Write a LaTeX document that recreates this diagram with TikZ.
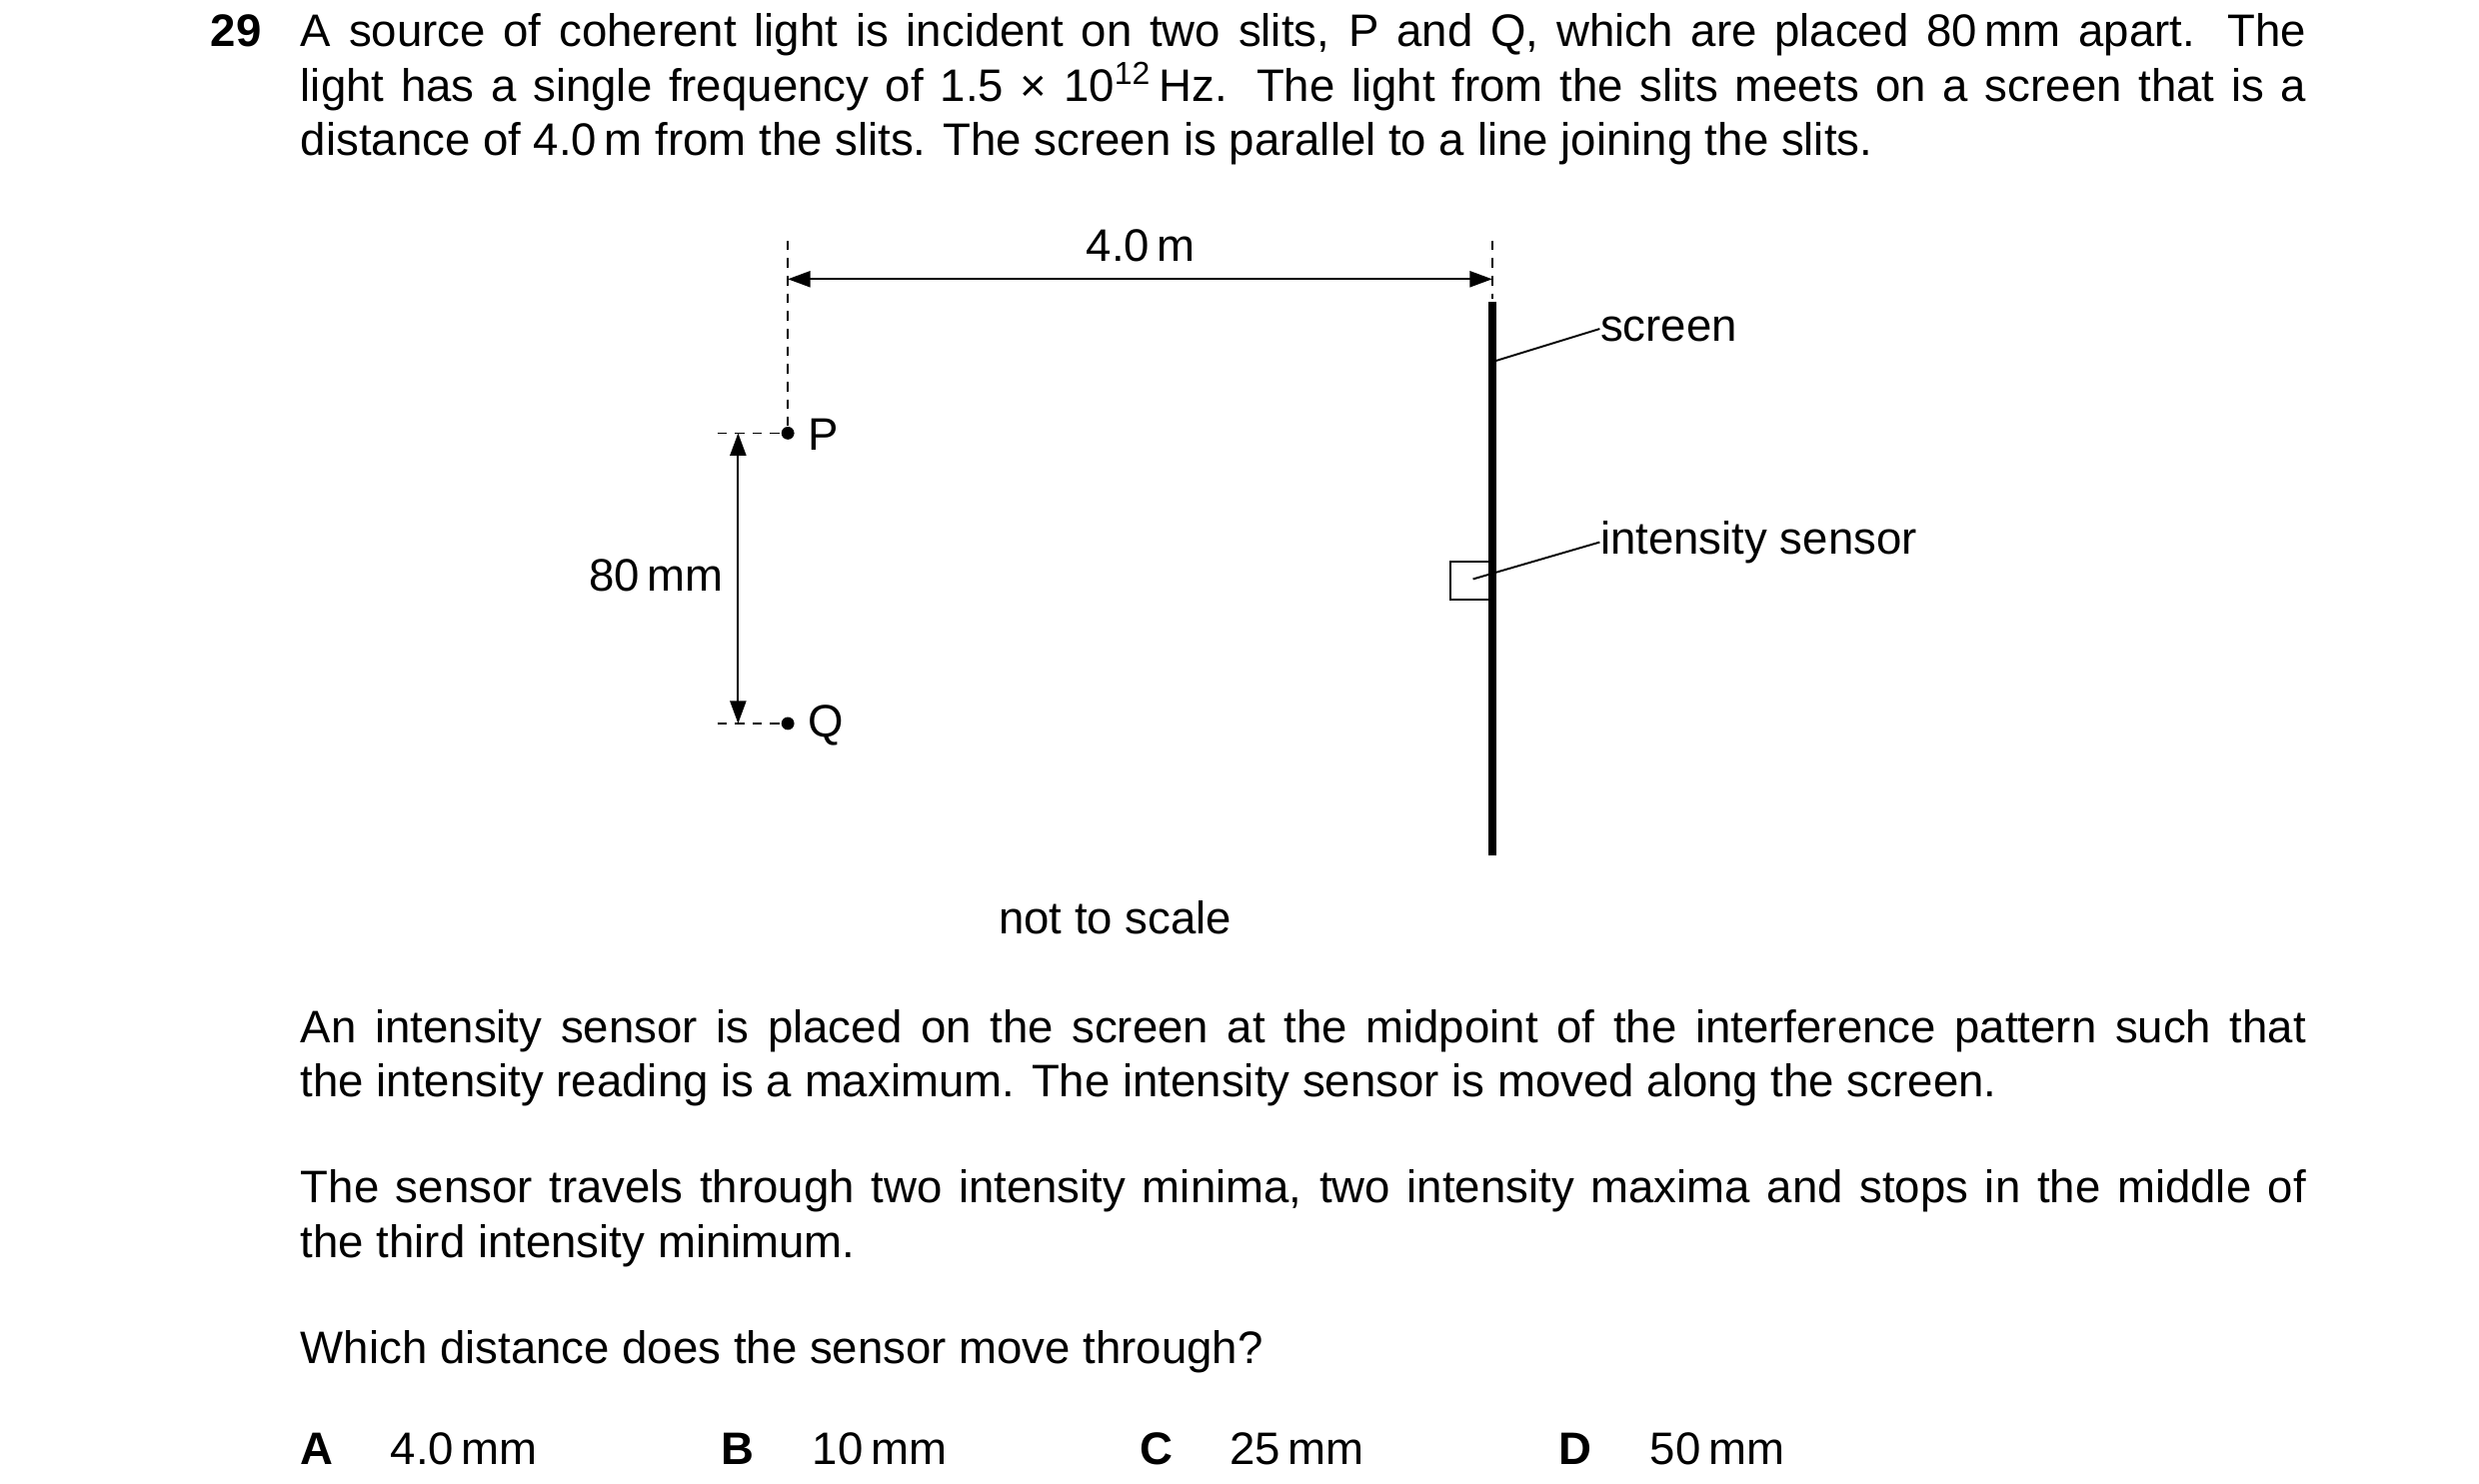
\documentclass[tikz,border=0pt]{standalone}
\usepackage{fontspec}
\setmainfont{Liberation Sans}
\usetikzlibrary{arrows.meta}
\begin{document}
\begin{tikzpicture}[x=0.5pt,y=-0.5pt,
  txt/.style={inner sep=0pt,font=\fontsize{14.2}{17}\selectfont},
  dsh/.style={line width=0.5pt,dash pattern=on 3pt off 2.5pt},
  thn/.style={line width=0.6pt},
  tip/.style={-{Triangle[length=7pt,width=5pt]}},
  dot/.style={circle,fill,inner sep=0pt,minimum size=4pt}]
\useasboundingbox (0,0) rectangle (1545,925);
% question
\node[txt,anchor=base west] (num) at (131,29) {\textbf{29}};
\node[txt,anchor=base west,text width=625pt,align=justify] (q) at (187,29)
 {A source of coherent light is incident on two slits, P and Q, which are placed 80\,mm apart. The\linebreak
 light has a single frequency of 1.5 × 10\textsuperscript{12}\,Hz. The light from the slits meets on a screen that is a\linebreak
 distance of 4.0\,m from the slits. The screen is parallel to a line joining the slits.};
% diagram
\node[dot] (P) at (491,270) {};
\node[dot] (Q) at (491,451) {};
\coordinate (pt) at (491,150);
\coordinate (st) at (930,150);
\coordinate (sb) at (930,186);
\coordinate (ptop) at (930,188);
\coordinate (pbot) at (930,533);
\draw[dsh] (pt) -- (P);
\draw[dsh] (st) -- (sb);
\coordinate (a1) at (491,174); \coordinate (a2) at (930,174);
\draw[thn,tip] (711,174) -- (a1);
\draw[thn,tip] (711,174) -- (a2);
\node[txt] (d) at (711,153) {4.0\,m};
\draw[line width=2.6pt] (ptop) -- (pbot);
\node[draw,thn,minimum size=12pt,inner sep=0pt] (sens) at (916,362) {};
\node[txt,anchor=west] (scr) at (997,205) {screen};
\node[txt,anchor=west] (is) at (997,338) {intensity sensor};
\draw[thn] (932,225) -- (scr.west);
\draw[thn] (918,361) -- (is.west);
\coordinate (pl) at (447,270); \coordinate (ql) at (447,451);
\draw[dsh] (pl) -- (P);
\draw[dsh] (ql) -- (Q);
\node[txt,anchor=west] (lp) at (503,271) {P};
\node[txt,anchor=west] (lq) at (503,452) {Q};
\coordinate (v1) at (460,270); \coordinate (v2) at (460,451);
\draw[thn,tip] (460,360) -- (v1);
\draw[thn,tip] (460,360) -- (v2);
\node[txt,anchor=east] (mm) at (451,359) {80\,mm};
\node[txt] (nts) at (695,572) {not to scale};
% text
\node[txt,anchor=base west,text width=625pt,align=justify] (t1) at (187,650)
 {An intensity sensor is placed on the screen at the midpoint of the interference pattern such that\linebreak
 the intensity reading is a maximum. The intensity sensor is moved along the screen.};
\node[txt,anchor=base west,text width=625pt,align=justify] (t2) at (187,750)
 {The sensor travels through two intensity minima, two intensity maxima and stops in the middle of\linebreak
 the third intensity minimum.};
\node[txt,anchor=base west] (t3) at (187,850) {Which distance does the sensor move through?};
\node[txt,anchor=base west] (oa) at (187,913) {\textbf{A}};
\node[txt,anchor=base west] (oa2) at (243,913) {4.0\,mm};
\node[txt,anchor=base west] (ob) at (449,913) {\textbf{B}};
\node[txt,anchor=base west] (ob2) at (506,913) {10\,mm};
\node[txt,anchor=base west] (oc) at (710,913) {\textbf{C}};
\node[txt,anchor=base west] (oc2) at (766,913) {25\,mm};
\node[txt,anchor=base west] (od) at (971,913) {\textbf{D}};
\node[txt,anchor=base west] (od2) at (1028,913) {50\,mm};
\end{tikzpicture}
\end{document}
